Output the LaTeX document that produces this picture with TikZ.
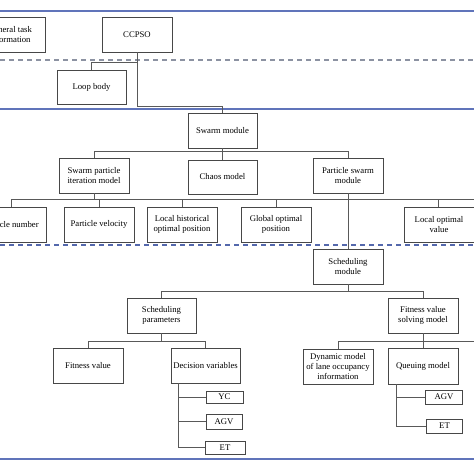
\documentclass[tikz,border=0pt]{standalone}
\usepackage{fontspec}
\setmainfont{Liberation Serif}
\begin{document}
\begin{tikzpicture}[x=1pt,y=-1pt,
  box/.style={draw=black!72, line width=0.9pt, fill=white, align=center, inner sep=0pt,
    minimum width=70pt, minimum height=35pt, font=\fontsize{8.7}{9.7}\selectfont},
  small/.style={box, minimum height=13pt, minimum width=37pt},
  conn/.style={draw=black!65, line width=0.9pt},
  band/.style={draw={rgb,255:red,96;green,116;blue,186}, line width=1.1pt},
  sep/.style={draw={rgb,255:red,84;green,104;blue,172}, line width=1.2pt, dash pattern=on 5pt off 4pt},
  sepgrey/.style={draw={rgb,255:red,140;green,146;blue,162}, line width=1.1pt, dash pattern=on 5pt off 4pt}]
\clip (0,0) rectangle (474,474);
\fill[white] (0,0) rectangle (474,474);
% separators
\coordinate (L1) at (0,11);   \coordinate (R1) at (474,11);
\coordinate (L2) at (0,60);   \coordinate (R2) at (474,60);
\coordinate (L3) at (0,109);  \coordinate (R3) at (474,109);
\coordinate (L4) at (0,245);  \coordinate (R4) at (474,245);
\coordinate (L5) at (0,459);  \coordinate (R5) at (474,459);
\draw[band] (L1) -- (R1);
\draw[sepgrey] (L2) -- (R2);
\draw[band] (L3) -- (R3);
\draw[sep] (L4) -- (R4);
\draw[band] (L5) -- (R5);
% level 0
\node[box] (gen) at (10,34.5) {General task\\information};
\node[box] (ccpso) at (137,34.5) {CCPSO};
\node[box, minimum width=69pt, minimum height=34pt] (loop) at (91.5,87) {Loop body};
% swarm
\node[box, minimum width=69pt] (swarm) at (222.5,130.5) {Swarm module};
\node[box] (spim) at (94,175.5) {Swarm particle\\iteration model};
\node[box, minimum width=69pt, minimum height=34pt] (chaos) at (222.5,177) {Chaos model};
\node[box] (psm) at (348,175.5) {Particle swarm\\module};
\node[box] (pnum) at (11,224.5) {Particle number};
\node[box] (pvel) at (99,224.5) {Particle velocity};
\node[box] (lhop) at (182,224.5) {Local historical\\optimal position};
\node[box] (gop) at (276,224.5) {Global optimal\\position};
\node[box] (lov) at (439,224.5) {Local optimal\\value};
% scheduling
\node[box] (sched) at (348,266.5) {Scheduling\\module};
\node[box, minimum width=69pt] (spar) at (161.5,315.5) {Scheduling\\parameters};
\node[box] (fvsm) at (423,315.5) {Fitness value\\solving model};
\node[box] (fit) at (88,365.5) {Fitness value};
\node[box, minimum width=69pt] (dvar) at (205.5,365.5) {Decision variables};
\node[box] (dyn) at (338,366.5) {Dynamic model\\of lane occupancy\\information};
\node[box, minimum height=36pt] (queue) at (423,366) {Queuing model};
\node[small, minimum height=12pt] (yc) at (224.5,397) {YC};
\node[small, minimum width=36pt, minimum height=15pt] (agva) at (224,421.5) {AGV};
\node[small, minimum width=40pt] (eta) at (225,447.5) {ET};
\node[small, minimum height=14pt] (agvb) at (444,397) {AGV};
\node[small, minimum width=36pt, minimum height=14pt] (etb) at (444.5,426) {ET};
% connectors
\draw[conn] (ccpso.south) -- ++(0,10) -| (loop.north);
\draw[conn] (ccpso.south) -- ++(0,54) -| (swarm.north);
\draw[conn] (swarm.south) -- ++(0,3) coordinate (s1);
\draw[conn] (spim.north) |- (s1) -| (psm.north);
\draw[conn] (swarm.south) -- (chaos.north);
\coordinate (r2end) at (474,199);
\draw[conn] (spim.south) -- (spim.south |- r2end);
\draw[conn] (pnum.north) |- (r2end);
\draw[conn] (pvel.north) -- (pvel.north |- r2end);
\draw[conn] (lhop.north) -- (lhop.north |- r2end);
\draw[conn] (gop.north) -- (gop.north |- r2end);
\draw[conn] ([xshift=-1pt]lov.north) -- ([xshift=-1pt]lov.north |- r2end);
\draw[conn] (psm.south) -- (sched.north);
\draw[conn] (sched.south) -- ++(0,7) coordinate (s3);
\draw[conn] (spar.north) |- (s3) -| (fvsm.north);
\draw[conn] (spar.south) -- ++(0,8) coordinate (s4);
\draw[conn] (fit.north) |- (s4) -| (dvar.north);
\coordinate (r4end) at (474,341);
\draw[conn] (fvsm.south) -- (fvsm.south |- r4end);
\draw[conn] (dyn.north) |- (r4end);
\draw[conn] (queue.north) -- (queue.north |- r4end);
\coordinate (dvx) at (178,383);
\draw[conn] (dvx) |- (eta.west);
\draw[conn] (dvx |- yc.west) -- (yc.west);
\draw[conn] (dvx |- agva.west) -- (agva.west);
\coordinate (qx) at (396,384);
\draw[conn] (qx) |- (etb.west);
\draw[conn] (qx |- agvb.west) -- (agvb.west);
\end{tikzpicture}
\end{document}
